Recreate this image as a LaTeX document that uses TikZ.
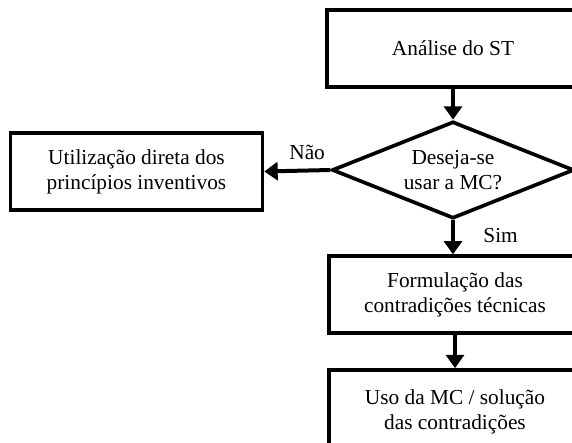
\documentclass[tikz,border=0pt]{standalone}
\usepackage{fontspec}
\setmainfont{Liberation Serif}
\usetikzlibrary{shapes.geometric,arrows.meta}

\begin{document}
\begin{tikzpicture}[x=0.75pt,y=-0.75pt,
    box/.style={draw,line width=2.75pt,rectangle,align=center,font=\fontsize{16}{18.75}\selectfont,minimum width=189pt,minimum height=57.5pt},
    decision/.style={draw,line width=2.75pt,diamond,aspect=2.5,inner sep=0pt,align=center,font=\fontsize{16}{18.75}\selectfont,minimum width=181.5pt,minimum height=72.75pt},
    seta/.style={line width=3pt,-{Triangle[width=13.5pt,length=10pt]}},
    rotulo/.style={font=\fontsize{16}{18.75}\selectfont}]
        \useasboundingbox (0,0) rectangle (572,443);
        \clip (0,0) rectangle (572,443);
        \node[box] (analise) at (453,48.5) {Análise do ST};
        \node[decision] (mc) at (453,170) {Deseja-se\\usar a MC?};
        \node[box] (direta) at (136.5,171.5) {Utilização direta dos\\princípios inventivos};
        \node[box] (formul) at (455,294.5) {Formulação das\\contradições técnicas};
        \node[box,minimum height=63pt] (uso) at (455,412) {Uso da MC / solução\\das contradições};
        \draw[seta] (analise.south -| mc.north) -- (mc.north);
        \draw[seta] (mc.west) -- (direta.east) node[rotulo,pos=0.35,above=3pt] {Não};
        \draw[seta] (mc.south) -- (mc.south |- formul.north) node[rotulo,pos=0.45,right=18pt] {Sim};
        \draw[seta] (formul) -- (uso);
    \end{tikzpicture}
\end{document}
